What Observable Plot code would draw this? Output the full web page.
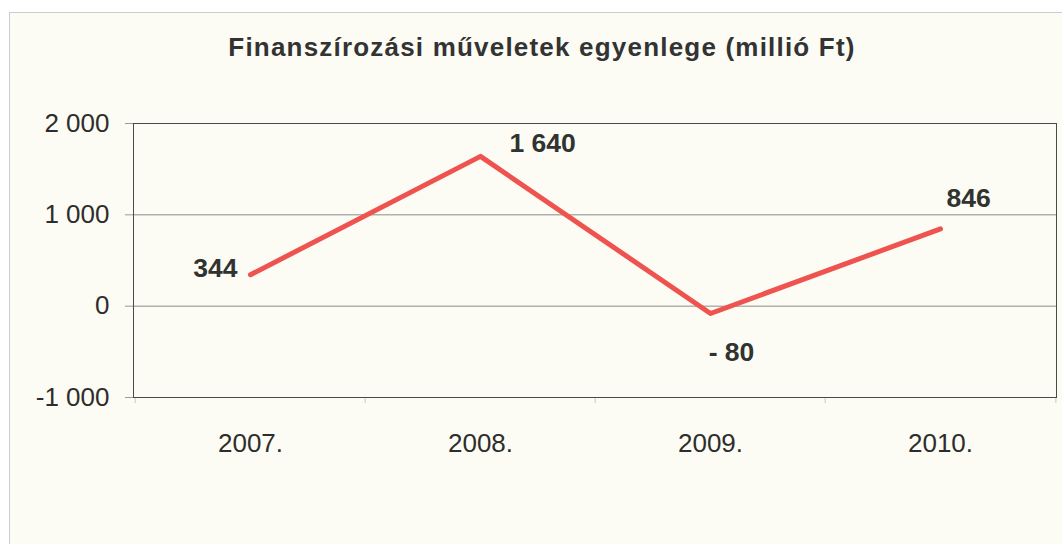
<!DOCTYPE html>
<html>
<head>
<meta charset="utf-8">
<script src="https://cdn.jsdelivr.net/npm/d3@7"></script>
<script src="https://cdn.jsdelivr.net/npm/@observablehq/plot@0.6"></script>
<style>
  html, body { margin: 0; padding: 0; background: #ffffff; }
  #wrap { position: relative; width: 1062px; height: 544px; overflow: hidden; font-family: "Liberation Sans", Arial, sans-serif; }
  #bg { position: absolute; left: 9px; top: 12px; width: 1100px; height: 600px; background: #fcfcf4; border: 1px solid #c9ced4; }
  #title { position: relative; height: 83px; box-sizing: border-box; padding-top: 32px; padding-left: 22px; text-align: center; font-weight: bold; font-size: 26px; color: #333; letter-spacing: 1.2px; }
  #chart { position: relative; }
  #chart svg { display: block; }
</style>
</head>
<body>
<div id="wrap">
  <div id="bg"></div>
  <div id="title">Finanszírozási műveletek egyenlege (millió Ft)</div>
  <div id="chart"></div>
</div>
<script>
const years = ["2007.", "2008.", "2009.", "2010."];
const values = [344, 1640, -80, 846];
const valueLabels = ["344", "1 640", "- 80", "846"];
const yTicks = [-1000, 0, 1000, 2000];
const gridTicks = [0, 1000];

const data = years.map((year, i) => ({year, value: values[i], label: valueLabels[i]}));
const fmt = d3.formatLocale({decimal: ",", thousands: " ", grouping: [3], currency: ["", ""], minus: "-"}).format(",");

const W = 1062, H = 461, ML = 133, MR = 6;
const step = (W - ML - MR) / years.length;
const yMin = -1000, yMax = 2000;
const tickLen = (yMax - yMin) * 6 / 274;
const labelFont = {fontSize: 26.5, fontWeight: "bold", fill: "#30332f"};

const chart = Plot.plot({
  width: W,
  height: H,
  marginLeft: ML,
  marginRight: MR,
  marginTop: 40,
  marginBottom: 147,
  style: {background: "transparent", fontFamily: "'Liberation Sans', Arial, sans-serif", fontSize: "26px", color: "#2d2d2d"},
  x: {type: "point", domain: years, padding: 0.5},
  y: {domain: [yMin, yMax]},
  marks: [
    Plot.gridY(gridTicks, {stroke: "#8c8c88", strokeOpacity: 1}),
    Plot.axisY({ticks: yTicks, tickFormat: fmt, tickSize: 8, tickPadding: 16, stroke: "#9a9a96", fontSize: 26, label: null}),
    Plot.axisX({tickSize: 0, tickPadding: 36, fontSize: 26, label: null}),
    Plot.ruleX(years, {x: d => d, dx: -step / 2, y1: yMin, y2: yMin - tickLen, stroke: "#c8c8c4", strokeWidth: 1}),
    Plot.ruleX(years.slice(-1), {x: d => d, dx: step / 2, y1: yMin, y2: yMin - tickLen, stroke: "#c8c8c4", strokeWidth: 1}),
    Plot.frame({stroke: "#4a4a48"}),
    Plot.lineY(data, {x: "year", y: "value", stroke: "#ef5350", strokeWidth: 5, strokeLinecap: "round"}),
    Plot.text(data.filter(d => d.year === "2007."), {x: "year", y: "value", text: "label", textAnchor: "end", dx: -13, dy: -6, ...labelFont}),
    Plot.text(data.filter(d => d.year === "2008."), {x: "year", y: "value", text: "label", textAnchor: "start", dx: 29, dy: -13, ...labelFont}),
    Plot.text(data.filter(d => d.year === "2009."), {x: "year", y: "value", text: "label", dx: 21, dy: 39, ...labelFont}),
    Plot.text(data.filter(d => d.year === "2010."), {x: "year", y: "value", text: "label", textAnchor: "start", dx: 6, dy: -30, ...labelFont})
  ]
});
document.getElementById("chart").appendChild(chart);
</script>
</body>
</html>
